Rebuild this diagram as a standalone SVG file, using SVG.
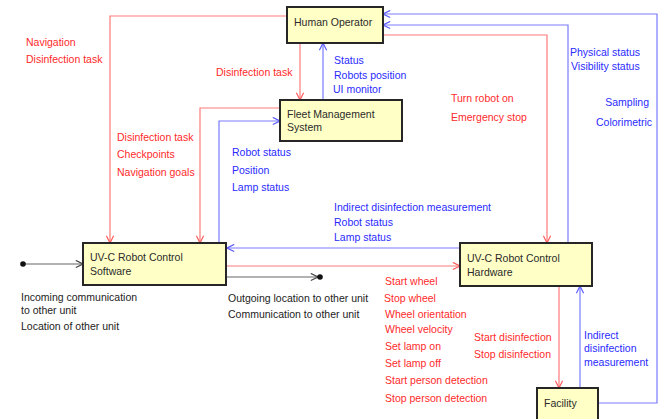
<svg xmlns="http://www.w3.org/2000/svg" width="662" height="419" viewBox="0 0 662 419">
<defs>
<style>
.box{fill:#FFFFC6;stroke:#262626;stroke-width:2}
.nt{font-family:"Liberation Sans",Arial,sans-serif;font-size:10.5px;fill:#2a2a2a}
.lb{font-family:"Liberation Sans",Arial,sans-serif;font-size:10.5px}
.r{fill:#FF2A2A}
.b{fill:#2A2AFF}
.k{fill:#222}
.cr{fill:none;stroke:#FF7A7A;stroke-width:1.2}
.cb{fill:none;stroke:#7A7AFF;stroke-width:1.2}
.ck{fill:none;stroke:#666;stroke-width:1.2}
</style>
<marker id="ar" viewBox="0 0 10 10" refX="9" refY="5" markerWidth="9" markerHeight="9" markerUnits="userSpaceOnUse" orient="auto"><path d="M1,1 L9,5 L1,9" fill="none" stroke="#FF5A5A" stroke-width="1.3"/></marker>
<marker id="ab" viewBox="0 0 10 10" refX="9" refY="5" markerWidth="9" markerHeight="9" markerUnits="userSpaceOnUse" orient="auto"><path d="M1,1 L9,5 L1,9" fill="none" stroke="#5A5AFF" stroke-width="1.3"/></marker>
<marker id="ak" viewBox="0 0 10 10" refX="9" refY="5" markerWidth="9" markerHeight="9" markerUnits="userSpaceOnUse" orient="auto"><path d="M1,1 L9,5 L1,9" fill="none" stroke="#444" stroke-width="1.3"/></marker>
</defs>
<rect width="662" height="419" fill="#fff"/>
<g id="connectors">
<polyline class="cr" points="287,16 110,16 110,243" marker-end="url(#ar)"/>
<polyline class="cr" points="300,43 300,100" marker-end="url(#ar)"/>
<polyline class="cb" points="323,100 323,43" marker-end="url(#ab)"/>
<polyline class="cr" points="280,108 200,108 200,243" marker-end="url(#ar)"/>
<polyline class="cb" points="219,243 219,121 280,121" marker-end="url(#ab)"/>
<polyline class="cb" points="460,248 227,248" marker-end="url(#ab)"/>
<polyline class="cr" points="227,266 460,266" marker-end="url(#ar)"/>
<polyline class="ck" points="227,277 318,277" marker-end="url(#ak)"/>
<circle cx="320" cy="277" r="2.8" fill="#111"/>
<polyline class="ck" points="23,264 83,264" marker-end="url(#ak)"/>
<circle cx="23" cy="264" r="2.8" fill="#111"/>
<polyline class="cr" points="383,35 547,35 547,243" marker-end="url(#ar)"/>
<polyline class="cb" points="568,243 568,25 383,25" marker-end="url(#ab)"/>
<polyline class="cb" points="598,403 657,403 657,14 383,14" marker-end="url(#ab)"/>
<polyline class="cr" points="559,286 559,388" marker-end="url(#ar)"/>
<polyline class="cb" points="580,388 580,286" marker-end="url(#ab)"/>
</g>
<g id="labels" class="lb">
<text class="r" x="26" y="46">Navigation</text>
<text class="r" x="26" y="63">Disinfection task</text>
<text class="r" x="216" y="76">Disinfection task</text>
<text class="b" x="334" y="64">Status</text>
<text class="b" x="334" y="79">Robots position</text>
<text class="b" x="333" y="93">UI monitor</text>
<text class="r" x="117" y="141">Disinfection task</text>
<text class="r" x="117" y="158">Checkpoints</text>
<text class="r" x="117" y="176">Navigation goals</text>
<text class="b" x="232" y="156">Robot status</text>
<text class="b" x="232" y="174">Position</text>
<text class="b" x="232" y="191">Lamp status</text>
<text class="r" x="451" y="102">Turn robot on</text>
<text class="r" x="451" y="121">Emergency stop</text>
<text class="b" x="570" y="56">Physical status</text>
<text class="b" x="571" y="70">Visibility status</text>
<text class="b" x="649" y="106" text-anchor="end">Sampling</text>
<text class="b" x="652" y="126" text-anchor="end">Colorimetric</text>
<text class="b" x="334" y="211">Indirect disinfection measurement</text>
<text class="b" x="334" y="226">Robot status</text>
<text class="b" x="334" y="241">Lamp status</text>
<text class="k" x="21" y="301">Incoming communication</text>
<text class="k" x="21" y="314">to other unit</text>
<text class="k" x="21" y="330">Location of other unit</text>
<text class="k" x="228" y="302">Outgoing location to other unit</text>
<text class="k" x="228" y="318">Communication to other unit</text>
<text class="r" x="385" y="285">Start wheel</text>
<text class="r" x="384" y="302">Stop wheel</text>
<text class="r" x="385" y="318">Wheel orientation</text>
<text class="r" x="385" y="333">Wheel velocity</text>
<text class="r" x="385" y="350">Set lamp on</text>
<text class="r" x="385" y="367">Set lamp off</text>
<text class="r" x="385" y="384">Start person detection</text>
<text class="r" x="385" y="402">Stop person detection</text>
<text class="r" x="474" y="341">Start disinfection</text>
<text class="r" x="474" y="358">Stop disinfection</text>
<text class="b" x="584" y="339">Indirect</text>
<text class="b" x="584" y="352">disinfection</text>
<text class="b" x="584" y="366">measurement</text>
</g>
<g id="human-operator">
<rect class="box" x="287" y="7" width="96" height="36"/>
<text class="nt" x="294" y="26">Human Operator</text>
</g>
<g id="fleet-management-system">
<rect class="box" x="280" y="100" width="122" height="41"/>
<text class="nt" x="287" y="118">Fleet Management</text>
<text class="nt" x="287" y="131">System</text>
</g>
<g id="robot-control-software">
<rect class="box" x="83" y="243" width="143" height="42"/>
<text class="nt" x="90" y="261">UV-C Robot Control</text>
<text class="nt" x="90" y="275">Software</text>
</g>
<g id="robot-control-hardware">
<rect class="box" x="460" y="243" width="132" height="43"/>
<text class="nt" x="467" y="262">UV-C Robot Control</text>
<text class="nt" x="467" y="276">Hardware</text>
</g>
<g id="facility">
<rect class="box" x="537" y="388" width="61" height="40"/>
<text class="nt" x="544" y="407">Facility</text>
</g>
</svg>
